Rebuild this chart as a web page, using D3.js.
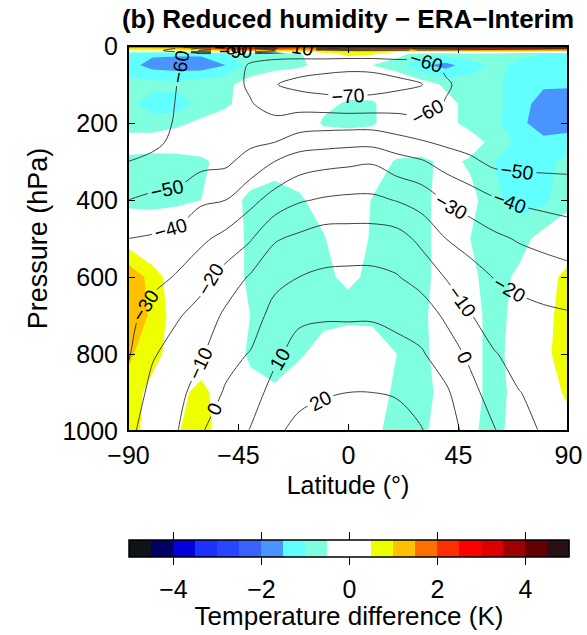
<!DOCTYPE html>
<html>
<head>
<meta charset="utf-8">
<script src="https://cdn.jsdelivr.net/npm/d3@7"></script>
<style>
  html, body { margin: 0; padding: 0; background: #fff; }
  svg { display: block; font-family: "Liberation Sans", Arial, Helvetica, sans-serif; }
</style>
</head>
<body>
<svg id="chart" width="587" height="635"></svg>
<script>
// grid: columns = latitude, rows = pressure level
const latitudes = [-90, -80, -70, -60, -50, -40, -30, -20, -10, 0, 10, 20, 30, 40, 50, 60, 70, 80, 90];
const pressureLevels = [0, 6, 12, 20, 50, 100, 150, 200, 250, 300, 400, 500, 600, 700, 800, 900, 1000];

// zonal mean temperature (degC)
const temperature = [
  [-60, -60, -60, -62, -64, -55, -20, -5, -5, -5, -5, -5, -5, -6, -6, -6, -7, -7, -7],
  [-62, -63, -70, -82, -88, -82, -60, -15, -25, -30, -32, -35, -38, -40, -42, -44, -46, -48, -50],
  [-64, -66, -75, -92, -95, -93, -80, -62, -58, -52, -52, -53, -54, -55, -56, -56, -57, -57, -57],
  [-63, -63, -60.5, -59, -59, -58, -57, -56, -55, -55, -55, -55, -56, -57, -57, -56, -56, -56, -56],
  [-68, -66, -60.5, -57, -57, -60.5, -63, -65, -66, -67, -67, -65, -63, -58.5, -56, -55, -55, -55, -55],
  [-68, -66, -60, -57.5, -57, -61, -69.5, -73, -75, -76, -75, -73, -70.5, -61, -57, -56, -56, -56, -56],
  [-67, -65, -59.5, -58, -57, -59.5, -63, -64, -65, -66, -65.5, -64, -63, -59.5, -57.5, -57, -56.5, -56, -56],
  [-65, -64, -59, -58.5, -58, -58, -58, -55, -54, -54, -54, -56, -58, -59, -58, -57.5, -57, -56, -56],
  [-63, -62, -58, -56, -55, -52, -50, -45, -44, -43, -43, -46, -49, -52, -54, -56, -56, -55, -55],
  [-60, -58, -56, -53, -52, -46, -40, -35, -33, -32, -31, -36, -39, -44, -48, -52.5, -53, -53, -53],
  [-50, -48, -47, -41.5, -40, -33, -26, -21, -19, -18, -18, -20.5, -24, -31, -35, -39, -41.5, -43, -44],
  [-40, -39, -37, -32, -27, -21, -11, -8, -5, -5, -5, -6, -12.5, -20, -24, -28, -31, -33, -35],
  [-37, -34, -29, -23, -16, -9, -3, 0, 1.5, 2, 2, 0.5, -3.5, -10.5, -16, -20.5, -23, -25, -26.5],
  [-34, -25, -21, -16.5, -8, -5, 3.5, 8, 9, 9, 9, 7.5, 5, -1.5, -9.5, -15, -16.5, -18, -19],
  [-31, -21, -16, -11, -3, 0.5, 8, 14, 15, 15, 15, 13, 11, 5, -2, -9.5, -13, -14, -14],
  [-27, -17, -13, -5.5, 1, 5.5, 13.5, 18.5, 19, 20, 20, 19.5, 16.5, 11.5, 3, -4.5, -9.8, -12, -11],
  [-23, -14, -10.5, -0.5, 4, 10.5, 19, 21.5, 25, 25, 24, 22.5, 20.5, 14, 7, 0.5, -6.5, -11, -13]
];

// temperature difference (K)
const tempDiff = [
  [3.2, 3.2, 3.6, 3.6, 3.8, 4.1, 4.1, 4.2, 4.2, 4.2, 4.2, 4.2, 4.2, 4.2, 4.2, 4.1, 4.1, 4.1, 4.1],
  [1.0, 1.0, 1.2, 1.8, 2.6, 2.8, 2.4, 2.0, 1.8, 1.8, 2.0, 2.2, 2.4, 2.6, 2.6, 2.6, 2.6, 2.6, 2.6],
  [0.4, 0.4, 0.5, 0.7, 1.0, 1.2, 1.0, 1.0, 1.1, 1.2, 1.2, 1.2, 1.2, 1.2, 1.2, 1.2, 1.2, 1.2, 1.2],
  [-1.2, -1.4, -1.4, -1.4, -1.0, -0.7, -0.7, -0.6, 0.2, 0.7, 0.6, -0.3, -0.7, -0.8, -0.7, -0.7, -0.9, -1.0, -1.1],
  [-1.3, -1.7, -1.8, -1.8, -1.5, -0.8, -0.7, -0.6, -0.3, -0.2, -0.5, -0.8, -1.4, -1.7, -1.2, -0.9, -1.1, -1.3, -1.3],
  [-0.8, -0.8, -0.8, -0.7, -0.6, -0.3, 0, 0.1, 0.1, -0.1, 0, 0.1, -0.2, -0.6, -0.8, -0.9, -1.2, -1.4, -1.4],
  [-0.8, -1.3, -1.3, -0.8, -0.6, -0.2, 0.1, 0.2, -0.3, -0.6, -0.6, 0, 0.1, -0.3, -0.7, -0.9, -1.2, -1.8, -1.9],
  [-0.7, -0.7, -0.6, -0.4, -0.2, 0, 0.1, 0.1, -0.6, -0.7, -0.6, 0, 0, -0.3, -0.7, -0.9, -1.3, -1.9, -1.8],
  [-0.3, -0.3, -0.2, -0.2, -0.1, 0, 0.1, 0.1, 0, 0, 0, 0.1, 0.1, 0, -0.2, -0.7, -1.1, -1.3, -1.2],
  [-0.6, -0.65, -0.7, -0.6, -0.3, -0.2, -0.3, -0.1, 0.1, 0.2, 0, -0.6, -0.7, -0.3, -0.6, -1.0, -1.2, -1.1, -0.9],
  [-0.7, -0.6, -0.6, -0.5, -0.3, -0.6, -0.7, -0.6, -0.2, 0.1, -0.55, -0.7, -0.7, -0.2, -0.3, -0.9, -1.2, -1.1, -0.7],
  [0.2, -0.2, 0, 0, -0.2, -0.6, -0.7, -0.7, -0.55, 0, -0.6, -0.7, -0.7, -0.2, -0.5, -0.8, -0.7, -0.3, 0],
  [1.4, 0.8, 0.1, 0, -0.2, -0.6, -0.75, -0.7, -0.6, -0.4, -0.6, -0.7, -0.7, -0.2, -0.4, -0.7, -0.4, 0.2, 0.7],
  [1.4, 0.9, 0.2, 0, -0.2, -0.5, -0.8, -0.8, -0.7, -0.7, -0.7, -0.7, -0.65, -0.1, -0.3, -0.7, -0.3, 0.2, 0.9],
  [1.1, 0.7, 0.2, 0.1, -0.1, -0.6, -0.8, -0.6, -0.2, 0.1, 0, -0.5, -0.7, -0.1, -0.3, -0.7, -0.2, 0.3, 0.9],
  [0.8, 0.3, 0.3, 0.7, 0.1, -0.3, -0.4, 0, 0.1, 0.1, 0, -0.7, -0.8, -0.2, -0.3, -0.7, -0.3, 0.2, 0.6],
  [0.8, 0.2, 0.45, 0.8, 0.1, -0.1, 0, 0, 0.1, 0.1, -0.3, -0.8, -0.7, 0, -0.4, -0.7, -0.2, 0.1, 0.3]
];

const lineLevels = [-90, -80, -70, -60, -50, -40, -30, -20, -10, 0, 10, 20];
const fillBreaks = [-4.5, -4, -3.5, -3, -2.5, -2, -1.5, -1, -0.5, 0.5, 1, 1.5, 2, 2.5, 3, 3.5, 4, 4.5];
const fillColors = ['#101418', '#000066', '#0000dd', '#1e32ff', '#2846ff', '#3a62ff', '#4a94ff', '#62ffff', '#7fffe0',
                    '#ffffff', '#f0ff00', '#ffc000', '#ff6e00', '#ff3000', '#ff0000', '#dd0000', '#a00000', '#600000', '#2a1014'];

// contour labels: [level, latitude, pressure]
const contourLabels = [
  [-70, 0, 143], [-60, 32, 166], [-60, 32, 42], [-60, -68, 55],
  [-50, -74, 374], [-50, 69, 330], [-40, -73, 465], [-40, 66, 408],
  [-30, -82, 678], [-30, 43, 408], [-20, -57, 603], [-20, 67, 621],
  [-10, -61, 823], [-10, 49, 652], [0, -54, 945], [0, 48, 808],
  [10, -27, 816], [20, -11, 925], [-10, -21, 5], [-80, -48, 9], [-90, -46, 11]
];

const latTicks = [-90, -45, 0, 45, 90];
const pressureTicks = [0, 200, 400, 600, 800, 1000];
const colorbarTicks = [-4, -2, 0, 2, 4];

const svg = d3.select('#chart');
const fmt = v => (v < 0 ? '\u2212' + Math.abs(v) : String(v));

const x = d3.scaleLinear().domain([-90, 90]).range([128, 568]);
const y = d3.scaleLinear().domain([0, 1000]).range([46, 431]);
const nx = latitudes.length, ny = pressureLevels.length;

// contour grid coords -> data -> pixels
function gridToData(c, arr) {
  const i = Math.max(0, Math.min(arr.length - 1, c - 0.5));
  const i0 = Math.min(Math.floor(i), arr.length - 2);
  return arr[i0] + (i - i0) * (arr[i0 + 1] - arr[i0]);
}
const project = p => [x(gridToData(p[0], latitudes)), y(gridToData(p[1], pressureLevels))];

const defs = svg.append('defs');
defs.append('clipPath').attr('id', 'plot-clip')
  .append('rect').attr('x', 128).attr('y', 46).attr('width', 440).attr('height', 385);

// filled temperature difference
const fillContours = d3.contours().size([nx, ny]).thresholds(fillBreaks)(tempDiff.flat());
const ringPath = ring => 'M' + ring.map(p => project(p).join(',')).join('L') + 'Z';

svg.append('g').attr('clip-path', 'url(#plot-clip)')
  .selectAll('path')
  .data(fillContours)
  .join('path')
  .attr('d', c => c.coordinates.map(poly => poly.map(ringPath).join('')).join(''))
  .attr('fill-rule', 'evenodd')
  .attr('fill', (c, i) => fillColors[i + 1]);

// temperature contour lines, boundary pieces dropped
function onEdge(a, b) {
  const e = 0.01;
  return (Math.abs(a[0] - 128) < e && Math.abs(b[0] - 128) < e) ||
         (Math.abs(a[0] - 568) < e && Math.abs(b[0] - 568) < e) ||
         (Math.abs(a[1] - 46) < e && Math.abs(b[1] - 46) < e) ||
         (Math.abs(a[1] - 431) < e && Math.abs(b[1] - 431) < e);
}

function splitRing(ring) {
  let pts = ring.map(project).filter((p, i, arr) =>
    i === 0 || Math.abs(p[0] - arr[i - 1][0]) > 1e-6 || Math.abs(p[1] - arr[i - 1][1]) > 1e-6);
  const first = pts[0], last = pts[pts.length - 1];
  if (first[0] !== last[0] || first[1] !== last[1]) pts.push(first);
  const n = pts.length - 1;
  let start = -1;
  for (let i = 0; i < n; i++) if (onEdge(pts[i], pts[i + 1])) { start = i; break; }
  if (start < 0) return [{ pts, closed: true }];
  const runs = [];
  let cur = null;
  for (let k = 0; k < n; k++) {
    const i = (start + k) % n;
    const a = pts[i], b = pts[i + 1];
    if (onEdge(a, b)) {
      if (cur) { runs.push({ pts: cur, closed: false }); cur = null; }
    } else {
      if (!cur) cur = [a];
      cur.push(b);
    }
  }
  if (cur) runs.push({ pts: cur, closed: false });
  return runs;
}

const lineContours = d3.contours().size([nx, ny]).thresholds(lineLevels)(temperature.flat());
const runsByLevel = new Map();
lineContours.forEach(c => {
  const runs = [];
  c.coordinates.forEach(poly => poly.forEach(ring => splitRing(ring).forEach(r => runs.push(r))));
  runsByLevel.set(c.value, runs);
});

const openLine = d3.line().curve(d3.curveCatmullRom.alpha(0.5));
const closedLine = d3.line().curve(d3.curveCatmullRomClosed.alpha(0.5));

const mask = defs.append('mask').attr('id', 'label-gaps')
  .attr('maskUnits', 'userSpaceOnUse')
  .attr('x', 0).attr('y', 0).attr('width', 587).attr('height', 635);
mask.append('rect').attr('x', 0).attr('y', 0).attr('width', 587).attr('height', 635).attr('fill', 'white');

const lineGroup = svg.append('g').attr('clip-path', 'url(#plot-clip)')
  .append('g').attr('mask', 'url(#label-gaps)');

runsByLevel.forEach((runs, level) => {
  lineGroup.selectAll(null)
    .data(runs)
    .join('path')
    .attr('d', r => r.closed ? closedLine(r.pts.slice(0, -1)) : openLine(r.pts))
    .attr('fill', 'none')
    .attr('stroke', '#2a2a2a')
    .attr('stroke-width', 0.9);
});

// labels sit on the nearest contour point
function nearest(runs, tx, ty) {
  let best = null;
  runs.forEach(r => {
    const pts = r.pts;
    for (let i = 0; i < pts.length - 1; i++) {
      const a = pts[i], b = pts[i + 1];
      const dx = b[0] - a[0], dy = b[1] - a[1];
      const len2 = dx * dx + dy * dy;
      if (len2 === 0) continue;
      const t = Math.max(0, Math.min(1, ((tx - a[0]) * dx + (ty - a[1]) * dy) / len2));
      const px = a[0] + t * dx, py = a[1] + t * dy;
      const d = (px - tx) ** 2 + (py - ty) ** 2;
      if (!best || d < best.d) best = { d, x: px, y: py, angle: Math.atan2(dy, dx) * 180 / Math.PI };
    }
  });
  return best;
}

const labelGroup = svg.append('g').attr('clip-path', 'url(#plot-clip)');
contourLabels.forEach(([level, lat, p]) => {
  const runs = runsByLevel.get(level) || [];
  const spot = nearest(runs, x(lat), y(p));
  if (!spot) return;
  let angle = spot.angle;
  if (angle > 90) angle -= 180;
  if (angle < -90) angle += 180;
  const tf = `translate(${spot.x},${spot.y}) rotate(${angle})`;
  const text = labelGroup.append('text')
    .attr('transform', tf)
    .attr('text-anchor', 'middle')
    .attr('dy', '0.35em')
    .attr('font-size', 19.5)
    .attr('fill', '#000')
    .text(fmt(level));
  const w = text.node().getComputedTextLength() + 6;
  mask.append('rect')
    .attr('transform', tf)
    .attr('x', -w / 2).attr('y', -8)
    .attr('width', w).attr('height', 16)
    .attr('fill', 'black');
});

// axes, ticks pointing inwards
function styleAxis(g, fontSize) {
  g.select('.domain').remove();
  g.selectAll('.tick line').attr('stroke', '#000').attr('stroke-width', 1);
  g.selectAll('.tick text').attr('fill', '#000').attr('font-size', fontSize)
    .attr('font-family', '"Liberation Sans", Arial, sans-serif');
}

svg.append('g').attr('transform', 'translate(0,431)')
  .call(d3.axisBottom(x).tickValues(latTicks).tickSizeInner(-7).tickSizeOuter(0).tickPadding(15).tickFormat(fmt))
  .call(g => styleAxis(g, 25));
svg.append('g').attr('transform', 'translate(0,46)')
  .call(d3.axisTop(x).tickValues(latTicks).tickSizeInner(-7).tickSizeOuter(0).tickFormat(() => ''))
  .call(g => styleAxis(g, 25));
svg.append('g').attr('transform', 'translate(128,0)')
  .call(d3.axisLeft(y).tickValues(pressureTicks).tickSizeInner(-7).tickSizeOuter(0).tickPadding(10).tickFormat(d3.format('d')))
  .call(g => styleAxis(g, 25));
svg.append('g').attr('transform', 'translate(568,0)')
  .call(d3.axisRight(y).tickValues(pressureTicks).tickSizeInner(-7).tickSizeOuter(0).tickFormat(() => ''))
  .call(g => styleAxis(g, 25));

svg.append('rect')
  .attr('x', 128).attr('y', 46).attr('width', 440).attr('height', 385)
  .attr('fill', 'none').attr('stroke', '#000').attr('stroke-width', 2);

svg.append('text')
  .attr('x', 348).attr('y', 28)
  .attr('text-anchor', 'middle')
  .attr('font-size', 26).attr('font-weight', 'bold')
  .text('(b) Reduced humidity \u2212 ERA\u2212Interim');

svg.append('text')
  .attr('x', 348).attr('y', 494)
  .attr('text-anchor', 'middle')
  .attr('font-size', 25)
  .text('Latitude (\u00b0)');

svg.append('text')
  .attr('transform', 'translate(47,238.5) rotate(-90)')
  .attr('text-anchor', 'middle')
  .attr('font-size', 27)
  .text('Pressure (hPa)');

// colour bar
const cbX = d3.scaleLinear().domain([-5, 5]).range([129, 569]);
const cbEdges = [-5, ...fillBreaks, 5];

svg.append('g').selectAll('rect')
  .data(fillColors)
  .join('rect')
  .attr('x', (c, i) => cbX(cbEdges[i]))
  .attr('width', (c, i) => cbX(cbEdges[i + 1]) - cbX(cbEdges[i]) + 0.3)
  .attr('y', 540).attr('height', 17)
  .attr('fill', c => c);

svg.append('rect')
  .attr('x', 129).attr('y', 540).attr('width', 440).attr('height', 17)
  .attr('fill', 'none').attr('stroke', '#000').attr('stroke-width', 1.5);

svg.append('g').attr('transform', 'translate(0,557)')
  .call(d3.axisBottom(cbX).tickValues(colorbarTicks).tickSize(8).tickPadding(15).tickFormat(fmt))
  .call(g => styleAxis(g, 25));
svg.append('g').attr('transform', 'translate(0,540)')
  .call(d3.axisTop(cbX).tickValues(colorbarTicks).tickSize(8).tickFormat(() => ''))
  .call(g => styleAxis(g, 25));

svg.append('text')
  .attr('x', 349).attr('y', 625)
  .attr('text-anchor', 'middle')
  .attr('font-size', 26)
  .text('Temperature difference (K)');
</script>
</body>
</html>
